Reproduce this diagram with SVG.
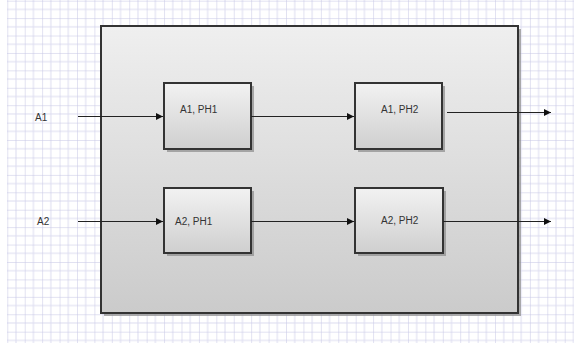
<svg xmlns="http://www.w3.org/2000/svg" width="574" height="347" viewBox="0 0 574 347">
<style>
.box{stroke:#333;stroke-width:2}
.shadow{fill:#8a8a8a;opacity:0.7}
.lbl{font-family:"Liberation Sans",Arial,sans-serif;font-size:10px;fill:#333}
.wire{stroke:#222;stroke-width:1;fill:none}
</style>
<defs>
<pattern id="grid" patternUnits="userSpaceOnUse" x="7.3" y="0.7" width="17.42" height="17.42">
<line x1="8.71" y1="0" x2="8.71" y2="17.42" stroke="#dcdcf0" stroke-width="1"/>
<line x1="0" y1="8.71" x2="17.42" y2="8.71" stroke="#dcdcf0" stroke-width="1"/>
<line x1="0" y1="0" x2="0" y2="17.42" stroke="#c4c4e4" stroke-width="1"/>
<line x1="0" y1="0" x2="17.42" y2="0" stroke="#c4c4e4" stroke-width="1"/>
</pattern>
<linearGradient id="gBig" x1="0" y1="0" x2="0" y2="1">
<stop offset="0" stop-color="#efefef"/>
<stop offset="1" stop-color="#cbcbcb"/>
</linearGradient>
<linearGradient id="gBox" x1="0" y1="0" x2="0" y2="1">
<stop offset="0" stop-color="#f2f2f2"/>
<stop offset="1" stop-color="#cfcfcf"/>
</linearGradient>
<marker id="arr" markerUnits="userSpaceOnUse" markerWidth="8" markerHeight="8" refX="7" refY="4" orient="auto">
<path d="M0,0.5 L7,4 L0,7.5 Z" fill="#111"/>
</marker>
</defs>
<rect x="0" y="0" width="574" height="347" fill="#fff"/>
<rect x="7" y="0" width="567" height="343" fill="url(#grid)"/>

<g id="container">
<rect class="shadow" x="104" y="29" width="417" height="287"/>
<rect class="box" x="101" y="26" width="417" height="287" fill="url(#gBig)"/>
</g>

<g id="A1_PH1">
<rect class="shadow" x="167" y="86" width="87" height="66"/>
<rect class="box" x="164" y="83" width="87" height="66" fill="url(#gBox)"/>
<text class="lbl" x="180" y="113">A1, PH1</text>
</g>
<g id="A1_PH2">
<rect class="shadow" x="358" y="86" width="87" height="66"/>
<rect class="box" x="355" y="83" width="87" height="66" fill="url(#gBox)"/>
<text class="lbl" x="381" y="113">A1, PH2</text>
</g>
<g id="A2_PH1">
<rect class="shadow" x="167" y="191" width="87" height="65"/>
<rect class="box" x="164" y="188" width="87" height="65" fill="url(#gBox)"/>
<text class="lbl" x="175" y="225">A2, PH1</text>
</g>
<g id="A2_PH2">
<rect class="shadow" x="358" y="191" width="88" height="65"/>
<rect class="box" x="355" y="188" width="88" height="65" fill="url(#gBox)"/>
<text class="lbl" x="381" y="224">A2, PH2</text>
</g>

<g id="labels">
<text class="lbl" x="35" y="121">A1</text>
<text class="lbl" x="37" y="225">A2</text>
</g>

<g id="connectors">
<line class="wire" x1="78" y1="116.5" x2="163" y2="116.5" marker-end="url(#arr)"/>
<line class="wire" x1="251" y1="116.5" x2="354" y2="116.5" marker-end="url(#arr)"/>
<line class="wire" x1="447" y1="112.5" x2="551" y2="112.5" marker-end="url(#arr)"/>
<line class="wire" x1="78" y1="221.5" x2="163" y2="221.5" marker-end="url(#arr)"/>
<line class="wire" x1="251" y1="221.5" x2="354" y2="221.5" marker-end="url(#arr)"/>
<line class="wire" x1="443" y1="221.5" x2="551" y2="221.5" marker-end="url(#arr)"/>
</g>
</svg>
